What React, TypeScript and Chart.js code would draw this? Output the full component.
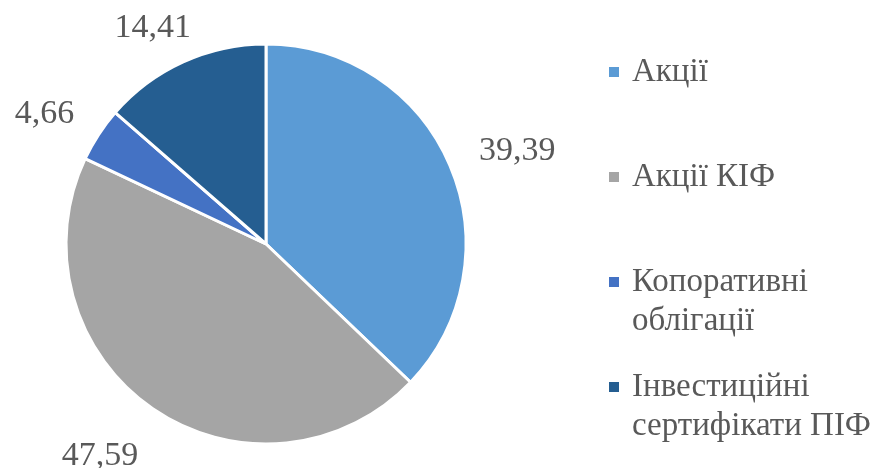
import React, { useEffect, useRef } from "react";
import { Chart, registerables } from "chart.js";

Chart.register(...registerables);

const categoryLines: string[][] = [
  ["Акції"],
  ["Акції КІФ"],
  ["Копоративні", "облігації"],
  ["Інвестиційні", "сертифікати ПІФ"],
];
const values = [39.39, 47.59, 4.66, 14.41];
const valueLabels = ["39,39", "47,59", "4,66", "14,41"];
const colors = ["#5B9BD5", "#A5A5A5", "#4472C4", "#255E91"];

const TEXT_COLOR = "#595959";
const LABEL_FONT = "34px 'Liberation Serif', 'Times New Roman', serif";
const LEGEND_FONT = "33px 'Liberation Serif', 'Times New Roman', serif";

const dataLabelPlugin = {
  id: "outsideLabels",
  afterDatasetsDraw(chart: any, _args: any, opts: any) {
    const ctx = chart.ctx;
    const meta = chart.getDatasetMeta(0);
    const extra: number[] = opts.extra || [];
    ctx.save();
    ctx.font = LABEL_FONT;
    ctx.fillStyle = TEXT_COLOR;
    ctx.textAlign = "center";
    ctx.textBaseline = "middle";
    meta.data.forEach((arc: any, i: number) => {
      const { x, y, startAngle, endAngle, outerRadius } = arc.getProps(
        ["x", "y", "startAngle", "endAngle", "outerRadius"],
        true
      );
      const mid = (startAngle + endAngle) / 2;
      const cx = Math.cos(mid);
      const sy = Math.sin(mid);
      const text = valueLabels[i];
      const w = ctx.measureText(text).width + 20;
      const h = 24;
      const dist = outerRadius + 25 + (extra[i] || 0);
      const px = x + cx * (dist + w / 2);
      const py = y + sy * (dist + h / 2);
      ctx.fillText(text, px, py);
    });
    ctx.restore();
  },
};

const legendPlugin = {
  id: "sideLegend",
  afterDraw(chart: any) {
    const ctx = chart.ctx;
    ctx.save();
    ctx.font = LEGEND_FONT;
    ctx.textBaseline = "middle";
    ctx.textAlign = "left";
    const markerX = 609;
    const textX = 632;
    const firstY = 72;
    const step = 105;
    const lineH = 39;
    categoryLines.forEach((lines, i) => {
      const yy = firstY + i * step;
      ctx.fillStyle = colors[i];
      ctx.fillRect(markerX, yy - 5, 10, 10);
      ctx.fillStyle = TEXT_COLOR;
      lines.forEach((ln, j) => {
        ctx.fillText(ln, textX, yy + j * lineH);
      });
    });
    ctx.restore();
  },
};

export default function App() {
  const ref = useRef<HTMLCanvasElement | null>(null);
  useEffect(() => {
    if (!ref.current) return;
    const chart = new Chart(ref.current, {
      type: "pie",
      data: {
        labels: categoryLines.map((l) => l.join(" ")),
        datasets: [
          {
            data: values,
            backgroundColor: colors,
            borderColor: "#FFFFFF",
            borderWidth: 3,
            hoverOffset: 0,
            radius: 200,
          } as any,
        ],
      },
      options: {
        responsive: false,
        animation: false,
        layout: { padding: { left: 66, right: 420, top: 44, bottom: 24 } },
        plugins: {
          legend: { display: false },
          tooltip: { enabled: false },
          outsideLabels: { extra: [0, 20, 0, 0] },
        } as any,
      },
      plugins: [dataLabelPlugin, legendPlugin],
    });
    return () => chart.destroy();
  }, []);
  return (
    <div style={{ position: "absolute", left: 0, top: 0, width: 886, height: 468, background: "#fff" }}>
      <canvas ref={ref} width={886} height={468} style={{ display: "block" }} />
    </div>
  );
}
